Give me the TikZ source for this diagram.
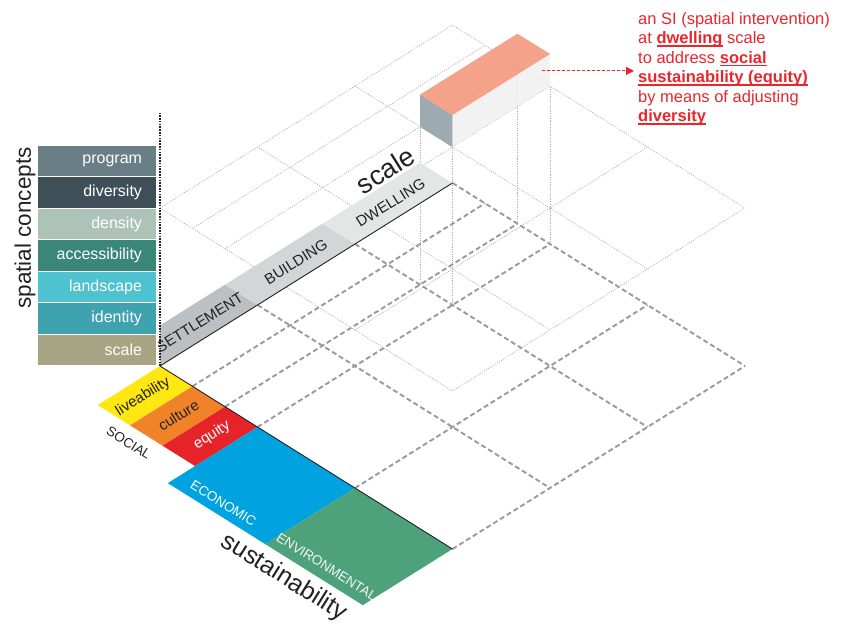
\documentclass[tikz,border=0pt]{standalone}
\usepackage{fontspec}
\setmainfont{Liberation Sans}
\usetikzlibrary{arrows.meta,positioning}
\definecolor{ink}{HTML}{222222}
\definecolor{programfill}{HTML}{6A7E86}
\definecolor{diversityfill}{HTML}{3E4F57}
\definecolor{densityfill}{HTML}{AEC3B8}
\definecolor{accessfill}{HTML}{3A8679}
\definecolor{landscapefill}{HTML}{4EC2CE}
\definecolor{identityfill}{HTML}{3FA2AF}
\definecolor{scalefill}{HTML}{A7A583}
\definecolor{settlementfill}{HTML}{BDC0C2}
\definecolor{buildingfill}{HTML}{D3D5D6}
\definecolor{dwellingfill}{HTML}{E4E5E5}
\definecolor{liveabilityfill}{HTML}{FFE812}
\definecolor{culturefill}{HTML}{F0822A}
\definecolor{equityfill}{HTML}{E52329}
\definecolor{economicfill}{HTML}{00A3DF}
\definecolor{environmentfill}{HTML}{4DA27B}
\definecolor{boxtop}{HTML}{F39A7F}
\definecolor{boxside}{HTML}{98A5AC}
\definecolor{boxfront}{HTML}{EEF0EF}
\definecolor{notered}{HTML}{E8262C}
\definecolor{gridgray}{HTML}{9A9A9A}
\definecolor{thingray}{HTML}{A8A8A8}
% bold word with a heavy underline
\newcommand{\keyword}[1]{\setbox0\hbox{\textbf{#1}}\rlap{\rule[-3pt]{\wd0}{1.3pt}}\box0\relax}
\tikzset{
  concept/.style={draw=white, line width=1.2pt, outer sep=0pt, minimum width=120pt, minimum height=31.57pt, text width=90pt, inner xsep=0pt, align=right, text=white, font=\fontsize{16}{16}\selectfont},
  floorgrid/.style={draw=gridgray, line width=1.9pt, dash pattern=on 5pt off 3pt},
  levelgrid/.style={draw=thingray, line width=0.7pt, dash pattern=on 0.9pt off 1.3pt},
  axisline/.style={draw=ink, line width=0.9pt},
  bandlabel/.style={text=ink, rotate=32, font=\fontsize{15}{15}\selectfont},
  striplabel/.style={rotate=32, font=\fontsize{15}{15}\selectfont},
  pillarlabel/.style={rotate=-32, font=\fontsize{13.5}{13.5}\selectfont},
  note/.style={text=notered, align=left, inner sep=0pt, font=\fontsize{16.5}{19.5}\selectfont},
  notearrow/.style={-{Triangle[length=8pt,width=8pt]}, draw=notered, fill=notered, line width=1.2pt, dash pattern=on 3pt off 2pt}
}

\begin{document}
\begin{tikzpicture}[x=1pt, y=-1pt]
  \useasboundingbox (0,0) rectangle (845,625);

  % isometric frame: x = scale, y = sustainability, z = height in px
  \begin{scope}[shift={(160,366)}, x={(97.5pt,61pt)}, y={(97.5pt,-61pt)}, z={(0pt,1pt)}]
    \foreach \a in {0,1,2,3}
      \draw[levelgrid] (\a,0,158) -- (\a,3,158);
    \foreach \b in {0,0.3333,0.6667,1,2,3}
      \draw[levelgrid] (0,\b,158) -- (3,\b,158);
    \foreach \a/\b in {2/0.6667,2/1,3/0.6667,3/1}
      \draw[levelgrid] (\a,\b,0) -- (\a,\b,158);

    \foreach \b in {0.3333,0.6667,1,2,3}
      \draw[floorgrid] (0,\b,0) -- (3,\b,0);
    \foreach \a in {1,2,3}
      \draw[floorgrid] (\a,0,0) -- (\a,3,0);

    \fill[settlementfill] (0,0,0) -- (1,0,0) -- (1,-0.3333,0) -- (0.3333,-0.3333,0) -- cycle;
    \fill[buildingfill] (1,0,0) -- (2,0,0) -- (2,-0.3333,0) -- (1,-0.3333,0) -- cycle;
    \fill[dwellingfill] (2,0,0) -- (3,0,0) -- (3,-0.3333,0) -- (2,-0.3333,0) -- cycle;

    \fill[liveabilityfill] (0,0,0) -- (0,0.3333,0) -- (-0.64,0.3333,0) -- (-0.64,0,0) -- cycle;
    \fill[culturefill] (0,0.3333,0) -- (0,0.6667,0) -- (-0.64,0.6667,0) -- (-0.64,0.3333,0) -- cycle;
    \fill[equityfill] (0,0.6667,0) -- (0,1,0) -- (-0.64,1,0) -- (-0.64,0.6667,0) -- cycle;
    \fill[economicfill] (0,1,0) -- (0,2,0) -- (-0.92,2,0) -- (-0.92,1,0) -- cycle;
    \fill[environmentfill] (0,2,0) -- (0,3,0) -- (-0.92,3,0) -- (-0.92,2,0) -- cycle;

    \draw[axisline] (0,0,0) -- (3,0,0);
    \draw[axisline] (0,0,0) -- (0,3,0);
    \draw[ink, line width=1.8pt, dash pattern=on 1.6pt off 1.2pt] (0,0,0) -- (0,0,253);

    \fill[boxside, fill opacity=0.95] (2,0.6667,158) -- (2,1,158) -- (2,1,190) -- (2,0.6667,190) -- cycle;
    \fill[boxfront, fill opacity=0.85] (2,1,158) -- (3,1,158) -- (3,1,190) -- (2,1,190) -- cycle;
    \fill[boxtop, fill opacity=0.92] (2,0.6667,190) -- (3,0.6667,190) -- (3,1,190) -- (2,1,190) -- cycle;
    \coordinate (siface) at (2.92,1,178);

    \node[bandlabel] (settlement) at (0.56,-0.155,0) {SETTLEMENT};
    \node[bandlabel] (building) at (1.55,-0.155,0) {BUILDING};
    \node[bandlabel] (dwelling) at (2.52,-0.155,0) {DWELLING};
    \node[rotate=32, text=ink, font=\fontsize{27}{27}\selectfont] (scaleaxis) at (2.76,-0.45,0) {scale};

    \node[striplabel, text=ink] (liveability) at (-0.34,0.1667,0) {liveability};
    \node[striplabel, text=ink] (culture) at (-0.31,0.5,0) {culture};
    \node[striplabel, text=white] (equity) at (-0.30,0.8333,0) {equity};
    \node[pillarlabel, text=ink] (social) at (-0.79,0.47,0) {SOCIAL};
    \node[pillarlabel, text=white] (economic) at (-0.80,1.45,0) {ECONOMIC};
    \node[pillarlabel, text=white!92!environmentfill] (environmental) at (-0.79,2.5,0) {ENVIRONMENTAL};
    \node[rotate=-32, text=ink, font=\fontsize{25}{25}\selectfont] (sustainability) at (-1.10,2.37,0) {sustainability};
  \end{scope}

  \node[concept, fill=programfill] (program) at (97,160.8) {program};
  \node[concept, fill=diversityfill, below=0pt of program] (diversity) {diversity};
  \node[concept, fill=densityfill, below=0pt of diversity] (density) {density};
  \node[concept, fill=accessfill, below=0pt of density] (accessibility) {accessibility};
  \node[concept, fill=landscapefill, below=0pt of accessibility] (landscape) {landscape};
  \node[concept, fill=identityfill, below=0pt of landscape] (identity) {identity};
  \node[concept, fill=scalefill, below=0pt of identity] (scale) {scale};
  \node[rotate=90, text=ink, font=\fontsize{22.5}{22.5}\selectfont] (concepts) at (25,228) {spatial concepts};

  \node[note, anchor=north west] (note) at (638,12) {an SI (spatial intervention)\\
    at \keyword{dwelling} scale\\
    to address \keyword{social}\\
    \keyword{sustainability (equity)}\\
    by means of adjusting\\
    \keyword{diversity}};

  \draw[notearrow, shorten >=4pt] (siface) -- (siface -| note.west);
\end{tikzpicture}
\end{document}
